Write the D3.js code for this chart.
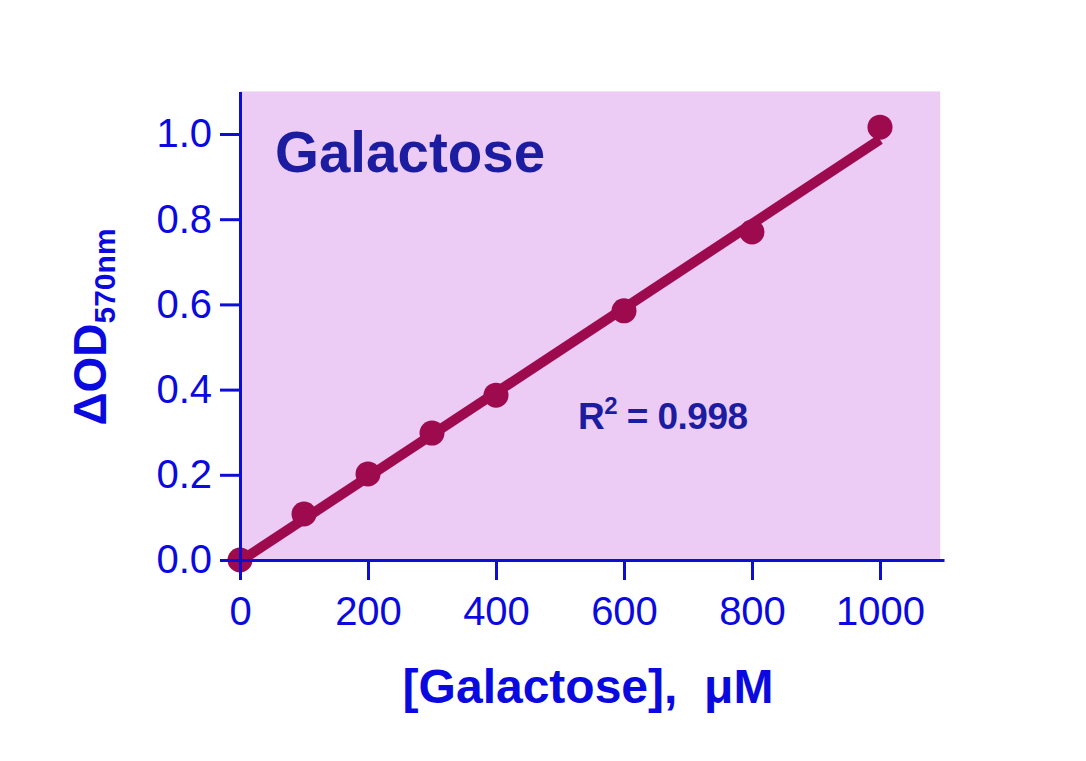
<!DOCTYPE html>
<html>
<head>
<meta charset="utf-8">
<script src="https://cdn.jsdelivr.net/npm/d3@7"></script>
<style>
  html, body { margin: 0; padding: 0; background: #ffffff; }
  svg { display: block; }
  text { font-family: Arial, "Liberation Sans", Helvetica, sans-serif; }
</style>
</head>
<body>
<svg id="chart" width="1086" height="761"></svg>
<script>
// ---- data ----
const concentrations = [0, 100, 200, 300, 400, 600, 800, 1000];      // µM
const odValues       = [0.0, 0.108, 0.202, 0.298, 0.387, 0.585, 0.770, 1.016];
const fitX           = [0, 1000];
const fitY           = [-0.003, 0.987];
const xTicks         = [0, 200, 400, 600, 800, 1000];
const yTicks         = [0.0, 0.2, 0.4, 0.6, 0.8, 1.0];
const xDomain        = [0, 1100];
const yDomain        = [0, 1.1];
const chartTitle     = "Galactose";
const r2Label        = "0.998";

// ---- layout ----
const svg = d3.select("#chart");
const plotLeft = 240, plotRight = 944, plotBottom = 560, plotTop = 91.4;

const x = d3.scaleLinear().domain(xDomain).range([plotLeft, plotRight]);
const y = d3.scaleLinear().domain(yDomain).range([plotBottom, plotTop]);

const axisColor = "#0e0ed2";
const labelColor = "#0a0ae0";
const navy = "#1c1ca0";
const dataColor = "#9e0a4e";

// plot background
svg.append("rect")
  .attr("x", x(0)).attr("y", y(yDomain[1]))
  .attr("width", x(1094) - x(0))
  .attr("height", y(0) - y(yDomain[1]))
  .attr("fill", "#ecccf5");

// title
svg.append("text")
  .attr("x", 275).attr("y", 172)
  .attr("font-size", 56.5).attr("font-weight", "bold")
  .attr("fill", navy)
  .text(chartTitle);

// R^2 annotation
const r2 = svg.append("text")
  .attr("x", 578).attr("y", 429)
  .attr("font-size", 37).attr("font-weight", "bold")
  .attr("fill", navy)
  .attr("textLength", 170);
r2.append("tspan").text("R");
r2.append("tspan").attr("font-size", 24).attr("dy", -15).text("2");
r2.append("tspan").attr("dy", 15).text(" = " + r2Label);

// fit line
const line = d3.line().x((d, i) => x(fitX[i])).y(d => y(d));
svg.append("path")
  .datum(fitY)
  .attr("d", line)
  .attr("fill", "none")
  .attr("stroke", dataColor)
  .attr("stroke-width", 10)
  .attr("stroke-linecap", "butt");

// points
svg.append("g").selectAll("circle")
  .data(concentrations)
  .join("circle")
  .attr("cx", d => x(d))
  .attr("cy", (d, i) => y(odValues[i]))
  .attr("r", 12.5)
  .attr("fill", dataColor);

// axes
const xAxis = d3.axisBottom(x).tickValues(xTicks).tickSize(20).tickSizeOuter(0).tickPadding(17)
  .tickFormat(d3.format("d"));
const yAxis = d3.axisLeft(y).tickValues(yTicks).tickSize(20).tickSizeOuter(0).tickPadding(8)
  .tickFormat(d3.format(".1f"));

const gx = svg.append("g").attr("transform", `translate(0,${plotBottom})`).call(xAxis);
const gy = svg.append("g").attr("transform", `translate(${plotLeft},0)`).call(yAxis);

[gx, gy].forEach(g => {
  g.select(".domain").attr("stroke", axisColor).attr("stroke-width", 3);
  g.selectAll(".tick line").attr("stroke", axisColor).attr("stroke-width", 3);
  g.selectAll(".tick text")
    .attr("fill", labelColor)
    .attr("font-size", 40)
    .attr("font-family", "Arial, 'Liberation Sans', sans-serif");
});

// x-axis label
svg.append("text")
  .attr("x", 588).attr("y", 703)
  .attr("text-anchor", "middle")
  .attr("font-size", 48).attr("font-weight", "bold")
  .attr("fill", labelColor)
  .attr("xml:space", "preserve")
  .text("[Galactose],  \u03BCM");

// y-axis label
const yl = svg.append("text")
  .attr("transform", "translate(106,327) rotate(-90)")
  .attr("text-anchor", "middle")
  .attr("font-size", 46).attr("font-weight", "bold")
  .attr("fill", labelColor);
yl.append("tspan").text("\u0394OD");
yl.append("tspan").attr("font-size", 30).attr("dy", 9).text("570nm");
</script>
</body>
</html>
